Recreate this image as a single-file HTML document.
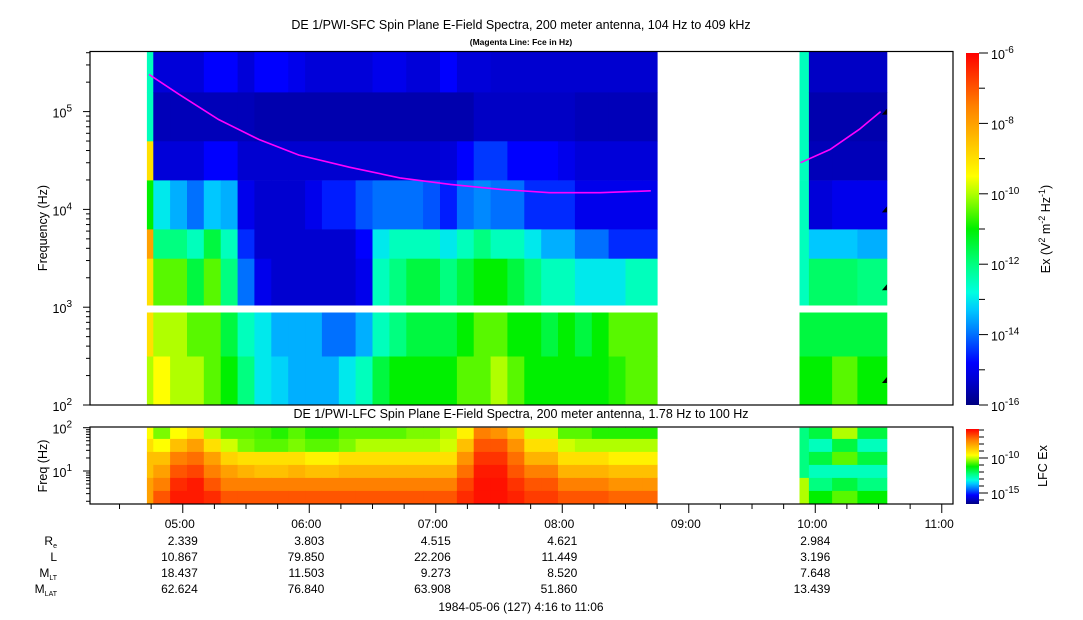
<!DOCTYPE html>
<html><head><meta charset="utf-8">
<style>
html,body{margin:0;padding:0;background:#fff;}
svg{display:block;font-family:"Liberation Sans",sans-serif;}
</style></head>
<body>
<svg id="chart" width="1083" height="620" viewBox="0 0 1083 620">
  <defs>
    <linearGradient id="pal" x1="0" y1="1" x2="0" y2="0">
      <stop offset="0" stop-color="#000080"/>
      <stop offset="0.07" stop-color="#0000d0"/>
      <stop offset="0.12" stop-color="#0000ff"/>
      <stop offset="0.2" stop-color="#0070ff"/>
      <stop offset="0.27" stop-color="#00c8ff"/>
      <stop offset="0.32" stop-color="#00ffe0"/>
      <stop offset="0.4" stop-color="#00ff80"/>
      <stop offset="0.5" stop-color="#00f000"/>
      <stop offset="0.6" stop-color="#b0ff00"/>
      <stop offset="0.65" stop-color="#ffff00"/>
      <stop offset="0.75" stop-color="#ffc000"/>
      <stop offset="0.85" stop-color="#ff8000"/>
      <stop offset="1" stop-color="#ff0000"/>
    </linearGradient>
  </defs>
  <text x="521" y="29" font-size="12.5" text-anchor="middle">DE 1/PWI-SFC  Spin Plane E-Field Spectra, 200 meter antenna, 104 Hz to 409 kHz</text>
  <text x="521" y="45" font-size="8.5" font-weight="bold" text-anchor="middle">(Magenta Line: Fce in Hz)</text>
  <g id="sfc"></g>
  <g id="lfc"></g>
  <rect x="146" y="305.5" width="520" height="7" fill="#fff"/>
  <rect x="795" y="305.5" width="100" height="7" fill="#fff"/>
  <g id="fce"></g>
  <g id="marks"></g>
  <rect x="90" y="51.5" width="863" height="353.5" fill="none" stroke="#000" stroke-width="1.2"/>
  <text x="521" y="418" font-size="12.5" text-anchor="middle">DE 1/PWI-LFC  Spin Plane E-Field Spectra, 200 meter antenna, 1.78 Hz to 100 Hz</text>
  <rect x="90" y="427" width="863" height="77" fill="none" stroke="#000" stroke-width="1.2"/>
  <text transform="translate(47,228) rotate(-90)" font-size="12.5" text-anchor="middle">Frequency (Hz)</text>
  <text transform="translate(47,466) rotate(-90)" font-size="12.5" text-anchor="middle">Freq (Hz)</text>
  <rect x="966" y="53" width="13" height="352" fill="url(#pal)"/>
  <rect x="966" y="429" width="13" height="75" fill="url(#pal)"/>
  <text transform="translate(1050,229) rotate(-90)" font-size="12.5" text-anchor="middle">Ex (V<tspan dy="-5" font-size="9">2</tspan><tspan dy="5"> m</tspan><tspan dy="-5" font-size="9">-2</tspan><tspan dy="5"> Hz</tspan><tspan dy="-5" font-size="9">-1</tspan><tspan dy="5">)</tspan></text>
  <text transform="translate(1047,466) rotate(-90)" font-size="12.5" text-anchor="middle">LFC Ex</text>
  <g id="axes" font-size="12.5"></g>
</svg>
<script>
// ---- data ----
const sfcTimes = [27,30,38,46,54,62,70,78,86,94,102,110,118,126,134,142,150,158,166,174,182,190,198,206,214,222,230,238,246,254,262,269];
const sfcBands = [2,2.5,3,3.5,3.8,4.3,4.7,5.2,5.612];
const sfcValues = [
[-10,-9,-9,-8,-11,-9,-12.5,-12.5],
[-9.5,-10,-10.5,-12,-13,-15.2,-15.5,-15.2],
[-10,-10,-10.5,-12,-13.5,-15.2,-15.5,-15.2],
[-10,-10.5,-11.5,-12.5,-14,-15.2,-15.5,-15.2],
[-10.5,-10.5,-10.5,-11.5,-13.3,-14.8,-15.5,-14.8],
[-11,-11.5,-12,-12.5,-13.5,-14.8,-15.5,-14.8],
[-12,-12.5,-14,-14.5,-15,-15.3,-15.5,-15.2],
[-13,-13,-15,-15.3,-15.3,-15.3,-15.6,-14.8],
[-13.2,-13.5,-15.3,-15.3,-15.3,-15.3,-15.6,-14.8],
[-13.5,-13.5,-15.3,-15.3,-15.3,-15.3,-15.6,-15],
[-13.5,-13.5,-15.3,-15.3,-15,-15.3,-15.6,-15.2],
[-13.5,-14,-15.3,-15.3,-14.6,-15.3,-15.6,-15.2],
[-13,-14,-15.3,-15.3,-14.6,-15.3,-15.6,-15.2],
[-12.5,-13.5,-15,-14.8,-14.2,-15.3,-15.6,-15.2],
[-11.5,-12.5,-12.5,-13,-14,-15.3,-15.6,-15],
[-11,-12,-12,-12.5,-14,-15.3,-15.6,-15],
[-11,-11.5,-11.5,-12.5,-14,-15.3,-15.6,-15.2],
[-11,-11.5,-11.5,-12.5,-14.2,-15.3,-15.6,-15.2],
[-11,-11.5,-12,-13,-14.6,-15.2,-15.6,-14.8],
[-10.5,-11,-11.5,-12.5,-14,-14.8,-15.6,-15.2],
[-10.5,-10.5,-11,-12,-13.8,-14.4,-15.4,-15.2],
[-10,-10.5,-11,-12.5,-14,-14.4,-15.4,-15.3],
[-10.5,-11,-11.5,-12.5,-14,-14.8,-15.4,-15.3],
[-11,-11,-12,-13,-14.5,-14.8,-15.4,-15.3],
[-11,-11.5,-12.5,-13.5,-14.5,-14.8,-15.4,-15.3],
[-11,-11,-12.5,-13.5,-14.5,-15,-15.4,-15.3],
[-11,-11.5,-13,-14,-15,-15.2,-15.5,-15.3],
[-11,-11,-13,-14,-15,-15.2,-15.5,-15.3],
[-10.8,-10.5,-13,-14.5,-15,-15.2,-15.5,-15.3],
[-10.5,-10.5,-12.5,-14.5,-15,-15.2,-15.5,-15.3],
[-10.5,-10.5,-12.5,-14.5,-15,-15.2,-15.5,-15.3]
];
const sfc2Times = [336.5,341,352,364,378];
const sfc2Values = [
[-11,-11.5,-12.5,-12.5,-12.5,-12.5,-12.5,-12.5],
[-11,-11.5,-11.8,-13.3,-15.2,-15.5,-15.6,-15.4],
[-10.5,-11.5,-11.8,-13.3,-15,-15.5,-15.6,-15.4],
[-11,-11.5,-12,-13.5,-15,-15.5,-15.6,-15.4]
];
const lfcBands = [0.238,0.55,0.85,1.15,1.45,1.75,2.0];
const lfcValues = [
[-8,-8,-8.5,-8.5,-9,-9.5],
[-7,-7.5,-8,-8.5,-9.5,-10.3],
[-6.3,-6.5,-7,-7.5,-8.5,-9.5],
[-6.3,-6.3,-6.8,-7.3,-8,-9],
[-6.5,-7,-7.5,-8,-9,-10],
[-7,-7.5,-8,-8.8,-9.8,-10.5],
[-7,-7.5,-8.3,-9,-10.3,-10.5],
[-7,-7.5,-8.5,-9,-10.5,-10.6],
[-7,-7.5,-8.5,-9,-10.5,-10.8],
[-7,-7.5,-8.3,-9,-10.3,-10.5],
[-7,-7.5,-8.5,-9.3,-10.5,-10.8],
[-7,-7.5,-8.5,-9.3,-10.5,-10.8],
[-7,-7.5,-8.3,-9,-10.3,-10.5],
[-7,-7.5,-8.3,-9,-10,-10.5],
[-7,-7.5,-8.3,-9,-10,-10.5],
[-7,-7.5,-8.3,-9,-10,-10.5],
[-7,-7.5,-8.3,-9,-10,-10.3],
[-7,-7.5,-8.3,-9,-10,-10.3],
[-7,-7.5,-8.3,-9,-9.8,-10],
[-6.5,-6.8,-7.3,-7.8,-8.5,-9.3],
[-6.2,-6.2,-6.3,-6.6,-7,-7.5],
[-6.2,-6.2,-6.3,-6.6,-7,-7.8],
[-6.4,-6.6,-7,-7.3,-7.8,-8.5],
[-6.7,-7,-7.5,-8.3,-9,-9.8],
[-6.7,-7,-7.5,-8.3,-9,-9.8],
[-7,-7.5,-8.3,-9,-9.8,-10.5],
[-7,-7.5,-8.3,-9,-10,-10.5],
[-7,-7.5,-8.3,-9,-10,-10.8],
[-7.2,-7.8,-8.5,-9.3,-10,-10.8],
[-7.2,-7.8,-8.5,-9.3,-10,-10.8],
[-7.2,-7.8,-8.5,-9.3,-10,-10.8]
];
const lfc2Values = [
[-10,-10,-12,-12,-12,-12],
[-11,-12,-12.5,-11.5,-12.5,-11.5],
[-10.5,-11.5,-12.5,-10.5,-11.5,-10],
[-11,-12,-12.5,-11.5,-12.5,-11.5]
];
const fceTimes1 = [28,42,61,80,99,123,147,171,195,218,242,266];
const fceHz1 = [240000,151000,83000,52000,36000,27000,21000,18000,16000,14800,14800,15500];
const fceTimes2 = [337,351,365,375];
const fceHz2 = [30000,41000,66000,100000];
const markerHz = [100000,10000,1600,180];
const hourLabels = ["05:00","06:00","07:00","08:00","09:00","10:00","11:00"];
const hourMinutes = [44,104,164,224,284,344,404];
const rowNames = ["Re","L","MLT","MLAT"];
const rowValues = [
["2.339","3.803","4.515","4.621","","2.984"],
["10.867","79.850","22.206","11.449","","3.196"],
["18.437","11.503","9.273","8.520","","7.648"],
["62.624","76.840","63.908","51.860","","13.439"]
];

// ---- scales ----
const NS = "http://www.w3.org/2000/svg";
const xOf = m => 90 + m * 126.5 / 60;
const yTop = lf => 405 - (lf - 2) * 97.8;
const yLfc = lf => 471 - (lf - 1) * 43.3;
const stops = [[0,[0,0,128]],[0.07,[0,0,208]],[0.12,[0,0,255]],[0.2,[0,112,255]],[0.27,[0,200,255]],[0.32,[0,255,224]],[0.4,[0,255,128]],[0.5,[0,240,0]],[0.6,[176,255,0]],[0.65,[255,255,0]],[0.75,[255,192,0]],[0.85,[255,128,0]],[1,[255,0,0]]];
function color(v){
  let t = Math.max(0, Math.min(1, (v + 16) / 10));
  for (let i = 1; i < stops.length; i++) {
    if (t <= stops[i][0]) {
      const a = stops[i-1], b = stops[i], f = (t - a[0]) / (b[0] - a[0]);
      const c = a[1].map((q, k) => Math.round(q + (b[1][k] - q) * f));
      return "rgb(" + c.join(",") + ")";
    }
  }
  return "rgb(255,0,0)";
}
function mk(tag, attrs, parent){
  const e = document.createElementNS(NS, tag);
  for (const k in attrs) e.setAttribute(k, attrs[k]);
  parent.appendChild(e);
  return e;
}
function drawGrid(parent, times, bands, vals, yf, nm){
  for (let c = 0; c < vals.length; c++) {
    const x0 = xOf(times[c]), x1 = xOf(times[c+1]);
    for (let b = 0; b < vals[c].length; b++) {
      const y0 = yf(bands[b+1]), y1 = yf(bands[b]);
      const r = mk("rect", {x: x0.toFixed(1), y: y0.toFixed(1), width: (x1 - x0 + 0.4).toFixed(1), height: (y1 - y0 + 0.4).toFixed(1), fill: color(vals[c][b])}, parent);
      
      
    }
  }
}
const sfc = document.getElementById("sfc"), lfc = document.getElementById("lfc");
drawGrid(sfc, sfcTimes, sfcBands, sfcValues, yTop, "sfc-cell");
drawGrid(sfc, sfc2Times, sfcBands, sfc2Values, yTop, "sfc-cell");
drawGrid(lfc, sfcTimes, lfcBands, lfcValues, yLfc, "lfc-cell");
drawGrid(lfc, sfc2Times, lfcBands, lfc2Values, yLfc, "lfc-cell");

// fce line
const fce = document.getElementById("fce");
[[fceTimes1, fceHz1], [fceTimes2, fceHz2]].forEach(([ts, hz]) => {
  const pts = ts.map((t, i) => xOf(t).toFixed(1) + "," + yTop(Math.log10(hz[i])).toFixed(1)).join(" ");
  const p = mk("polyline", {points: pts, fill: "none", stroke: "#ff00ff", "stroke-width": 1.6}, fce);
  
  
});
const marks = document.getElementById("marks");
markerHz.forEach(h => {
  const y = yTop(Math.log10(h)), x = xOf(378);
  const m = mk("polygon", {points: `${x-5},${y+3} ${x},${y-3} ${x},${y+3}`, fill: "#000"}, marks);
  
  
});

// axes
const ax = document.getElementById("axes");
function line(x1,y1,x2,y2,nm){
  const l = mk("line", {x1, y1, x2, y2, stroke: "#000", "stroke-width": 1}, ax);
  
  
}
function powLabel(x, y, exp, nm, anchor){
  const t = mk("text", {x, y, "text-anchor": anchor || "start", "font-size": 12.5}, ax);
  
  
  t.appendChild(document.createTextNode("10"));
  const s = mk("tspan", {dy: -6, "font-size": 10}, t);
  s.textContent = exp;
}
for (let d = 2; d <= 5; d++) {
  for (let k = 1; k <= 9; k++) {
    const lf = d + Math.log10(k);
    if (lf > 5.612) break;
    const y = yTop(lf);
    line(k === 1 ? 83 : 86, y, 90, y, k === 1 ? "sfc-y-major-tick" : "sfc-y-minor-tick");
  }
  powLabel(72, yTop(d) + 6, String(d), "sfc-y-tick-label", "end");
}
for (let d = 0; d <= 2; d++) {
  for (let k = 1; k <= 9; k++) {
    const lf = d + Math.log10(k);
    if (lf < 0.238 || lf > 2.001) continue;
    const y = yLfc(lf);
    line(k === 1 ? 83 : 86, y, 90, y, k === 1 ? "lfc-y-major-tick" : "lfc-y-minor-tick");
  }
  if (d >= 1) powLabel(72, yLfc(d) + 6, String(d), "lfc-y-tick-label", "end");
}
hourMinutes.forEach((m, i) => {
  const x = xOf(m);
  line(x, 504, x, 513, "x-major-tick");
  const t = mk("text", {x: x + 12, y: 528, "text-anchor": "end", "font-size": 12}, ax);
  
  
  t.textContent = hourLabels[i];
});
for (let m = 14; m <= 410; m += 15) {
  if ((m - 44) % 60 === 0) continue;
  const x = xOf(m);
  if (x < 91 || x > 952) continue;
  line(x, 504, x, 509, "x-minor-tick");
}
const rowY = [545, 561, 577, 593];
rowNames.forEach((n, r) => {
  const t = mk("text", {x: 57, y: rowY[r], "text-anchor": "end", "font-size": 12}, ax);
  
  
  if (n === "Re") { t.textContent = "R"; const s = mk("tspan", {dy: 3, "font-size": 7}, t); s.textContent = "e"; }
  else if (n === "L") { t.textContent = "L"; }
  else { t.textContent = "M"; const s = mk("tspan", {dy: 3, "font-size": 7}, t); s.textContent = n.slice(1); }
  rowValues[r].forEach((v, i) => {
    if (!v) return;
    const tv = mk("text", {x: xOf(hourMinutes[i]) + 15, y: rowY[r], "text-anchor": "end", "font-size": 12}, ax);
    
    
    tv.textContent = v;
  });
});
const dt = mk("text", {x: 521, y: 611, "text-anchor": "middle", "font-size": 12}, ax);


dt.textContent = "1984-05-06 (127) 4:16 to 11:06";
for (let e = -16; e <= -6; e++) {
  const y = 405 - (e + 16) * 35.2;
  line(979, y, e % 2 === 0 ? 988 : 985, y, "sfc-colorbar-tick");
  if (e % 2 === 0) powLabel(991, y + 6, String(e), "sfc-colorbar-label");
}
[-15, -10].forEach(e => {
  const y = 493 - (e + 15) * 7;
  line(979, y, 988, y, "lfc-colorbar-tick");
  powLabel(991, y + 6, String(e), "lfc-colorbar-label");
});
for (let e = -16; e <= -6; e++) {
  const y = 493 - (e + 15) * 7;
  if (y < 429 || y > 504 || e === -15 || e === -10) continue;
  line(979, y, 984, y, "lfc-colorbar-minor-tick");
}
</script>
</body></html>
